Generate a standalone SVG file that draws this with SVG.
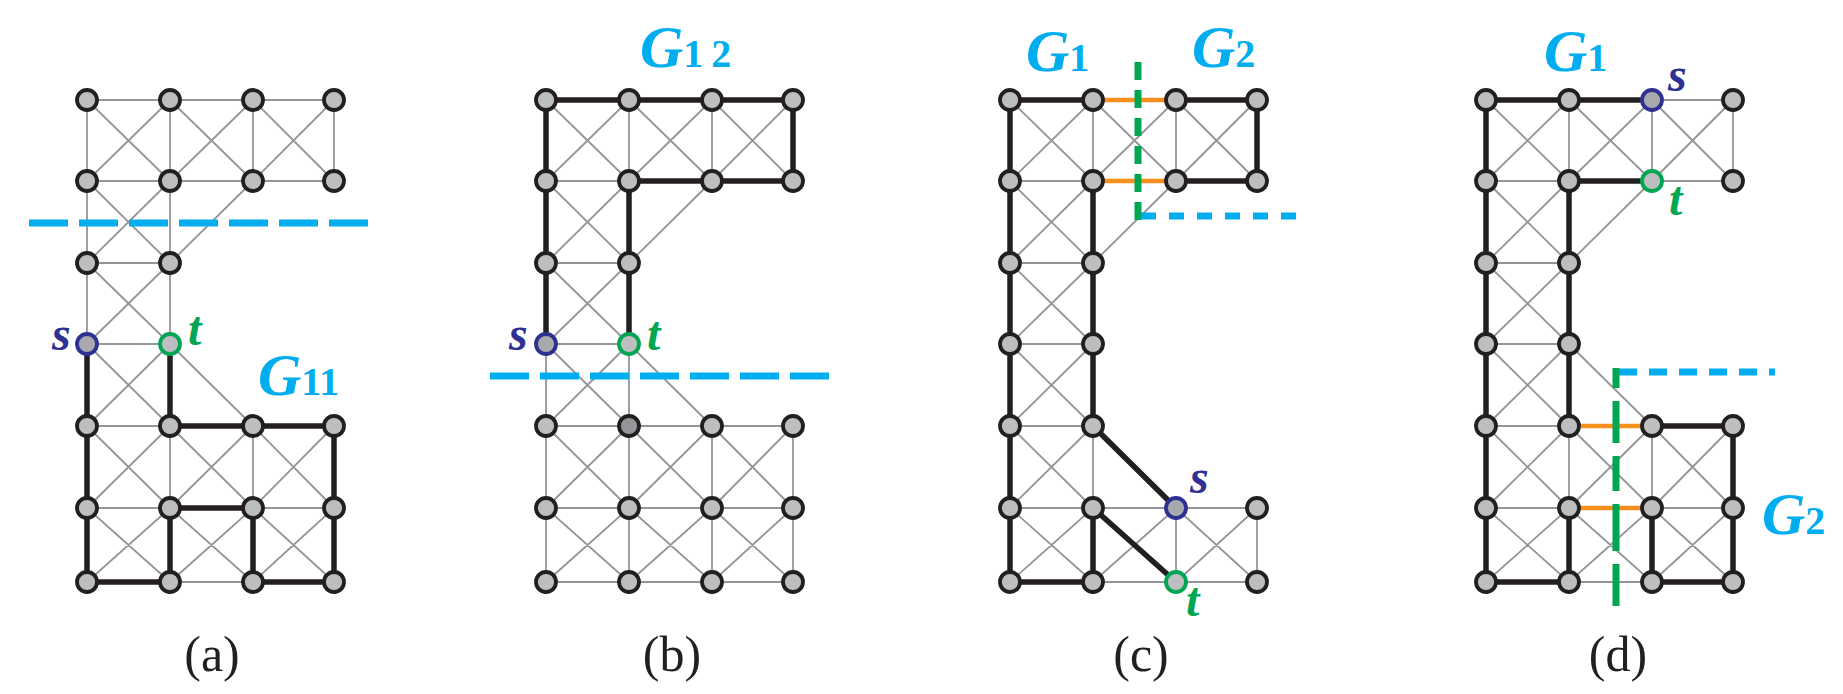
<svg xmlns="http://www.w3.org/2000/svg" xmlns:xlink="http://www.w3.org/1999/xlink" width="1843" height="694" viewBox="0 0 1843 694">
<style>
.g{fill:none;stroke:#939598;stroke-width:1.8}
.k{fill:none;stroke:#231f20;stroke-width:5.5;stroke-linejoin:miter}
.o{fill:none;stroke:#f7901e;stroke-width:4.5}
.n{fill:#bcbec0;stroke:#231f20;stroke-width:3.8}
.ns{fill:#a7a9ac;stroke:#2e3192;stroke-width:3.8}
.nt{fill:#bcbec0;stroke:#00a651;stroke-width:3.8}
.nd{fill:#939598;stroke:#231f20;stroke-width:3.8}
.cut{fill:none;stroke:#00aeef;stroke-width:7}
.gc{fill:none;stroke:#00a651;stroke-width:7}
.G{font-family:"Liberation Serif",serif;font-weight:bold;font-style:italic;fill:#00aeef;font-size:60px}
.sub{font-style:normal;font-size:40px}
.sl{font-family:"Liberation Serif",serif;font-weight:bold;font-style:italic;font-size:48px;fill:#2e3192}
.tl{font-family:"Liberation Serif",serif;font-weight:bold;font-style:italic;font-size:48px;fill:#00a651}
.cap{font-family:"Liberation Serif",serif;font-size:50px;fill:#231f20;text-anchor:middle}
</style>
<defs>
<path id="S1" class="g" d="M0 100H247M0 181H247M0 263H83M0 344H83M0 426H247M0 508H247M0 582H247M0 100V582M83 100V582M166 100V181M166 426V582M247 100V181M247 426V582M0 100L83 181M83 100L0 181M83 100L166 181M166 100L83 181M166 100L247 181M247 100L166 181M0 181L83 263M83 181L0 263M166 181L83 263M0 263L83 344M83 263L0 344M0 344L83 426M83 344L0 426M83 344L166 426M0 426L83 508M83 426L0 508M83 426L166 508M166 426L83 508M166 426L247 508M247 426L166 508M0 508L83 582M83 508L0 582M83 508L166 582M166 508L83 582M166 508L247 582M247 508L166 582"/>
<path id="S2" class="g" d="M0 100H247M0 181H247M0 263H83M0 344H83M0 426H83M0 508H247M0 582H247M0 100V582M83 100V582M166 100V181M166 508V582M247 100V181M247 508V582M0 100L83 181M83 100L0 181M83 100L166 181M166 100L83 181M166 100L247 181M247 100L166 181M0 181L83 263M83 181L0 263M166 181L83 263M0 263L83 344M83 263L0 344M0 344L83 426M83 344L0 426M0 426L83 508M83 426L0 508M83 426L166 508M0 508L83 582M83 508L0 582M83 508L166 582M166 508L83 582M166 508L247 582M247 508L166 582"/>
</defs>

<g id="connectors">
<use xlink:href="#S1" x="87"/>
<use xlink:href="#S1" x="546"/>
<use xlink:href="#S2" x="1010"/>
<use xlink:href="#S1" x="1486"/>
<g transform="translate(87 0)"><path class="k" d="M0 344V582H83M83 344V426H247V582H166M83 508H166M83 508V582M166 508V582"/></g>
<g transform="translate(546 0)"><path class="k" d="M0 344V100H247V181H83V344"/></g>
<g transform="translate(1010 0)"><path class="k" d="M83 100H0V582H83V508L166 582M83 181V426L166 508M166 100H247V181H166"/><path class="o" d="M83 100H166M83 181H166"/></g>
<g transform="translate(1486 0)"><path class="k" d="M166 100H0V582H83V508M166 181H83V426M166 508V582H247V426H166"/><path class="o" d="M83 426H166M83 508H166"/></g>
<path class="cut" stroke-dasharray="39 11" d="M29 223H371"/>
<path class="cut" stroke-dasharray="39 11" d="M490 376H832"/>
<path class="cut" stroke-dasharray="15 13" d="M1141 216H1296"/>
<path class="gc" stroke-dasharray="18 10" d="M1138 62V220"/>
<path class="cut" stroke-dasharray="18 12" d="M1619 372H1775"/>
<path class="gc" stroke-dasharray="20 13 42 13 35 13 47 13 42" d="M1616 368V608"/>
</g>

<g id="panel-a" transform="translate(87 0)">
<g id="a00"><circle class="n" cx="0" cy="100" r="10"/></g>
<g id="a10"><circle class="n" cx="83" cy="100" r="10"/></g>
<g id="a20"><circle class="n" cx="166" cy="100" r="10"/></g>
<g id="a30"><circle class="n" cx="247" cy="100" r="10"/></g>
<g id="a01"><circle class="n" cx="0" cy="181" r="10"/></g>
<g id="a11"><circle class="n" cx="83" cy="181" r="10"/></g>
<g id="a21"><circle class="n" cx="166" cy="181" r="10"/></g>
<g id="a31"><circle class="n" cx="247" cy="181" r="10"/></g>
<g id="a02"><circle class="n" cx="0" cy="263" r="10"/></g>
<g id="a12"><circle class="n" cx="83" cy="263" r="10"/></g>
<g id="a03"><circle class="ns" cx="0" cy="344" r="10"/></g>
<g id="a13"><circle class="nt" cx="83" cy="344" r="10"/></g>
<g id="a04"><circle class="n" cx="0" cy="426" r="10"/></g>
<g id="a14"><circle class="n" cx="83" cy="426" r="10"/></g>
<g id="a24"><circle class="n" cx="166" cy="426" r="10"/></g>
<g id="a34"><circle class="n" cx="247" cy="426" r="10"/></g>
<g id="a05"><circle class="n" cx="0" cy="508" r="10"/></g>
<g id="a15"><circle class="n" cx="83" cy="508" r="10"/></g>
<g id="a25"><circle class="n" cx="166" cy="508" r="10"/></g>
<g id="a35"><circle class="n" cx="247" cy="508" r="10"/></g>
<g id="a06"><circle class="n" cx="0" cy="582" r="10"/></g>
<g id="a16"><circle class="n" cx="83" cy="582" r="10"/></g>
<g id="a26"><circle class="n" cx="166" cy="582" r="10"/></g>
<g id="a36"><circle class="n" cx="247" cy="582" r="10"/></g>
</g>

<g id="panel-b" transform="translate(546 0)">
<g id="b00"><circle class="n" cx="0" cy="100" r="10"/></g>
<g id="b10"><circle class="n" cx="83" cy="100" r="10"/></g>
<g id="b20"><circle class="n" cx="166" cy="100" r="10"/></g>
<g id="b30"><circle class="n" cx="247" cy="100" r="10"/></g>
<g id="b01"><circle class="n" cx="0" cy="181" r="10"/></g>
<g id="b11"><circle class="n" cx="83" cy="181" r="10"/></g>
<g id="b21"><circle class="n" cx="166" cy="181" r="10"/></g>
<g id="b31"><circle class="n" cx="247" cy="181" r="10"/></g>
<g id="b02"><circle class="n" cx="0" cy="263" r="10"/></g>
<g id="b12"><circle class="n" cx="83" cy="263" r="10"/></g>
<g id="b03"><circle class="ns" cx="0" cy="344" r="10"/></g>
<g id="b13"><circle class="nt" cx="83" cy="344" r="10"/></g>
<g id="b04"><circle class="n" cx="0" cy="426" r="10"/></g>
<g id="b14"><circle class="nd" cx="83" cy="426" r="10"/></g>
<g id="b24"><circle class="n" cx="166" cy="426" r="10"/></g>
<g id="b34"><circle class="n" cx="247" cy="426" r="10"/></g>
<g id="b05"><circle class="n" cx="0" cy="508" r="10"/></g>
<g id="b15"><circle class="n" cx="83" cy="508" r="10"/></g>
<g id="b25"><circle class="n" cx="166" cy="508" r="10"/></g>
<g id="b35"><circle class="n" cx="247" cy="508" r="10"/></g>
<g id="b06"><circle class="n" cx="0" cy="582" r="10"/></g>
<g id="b16"><circle class="n" cx="83" cy="582" r="10"/></g>
<g id="b26"><circle class="n" cx="166" cy="582" r="10"/></g>
<g id="b36"><circle class="n" cx="247" cy="582" r="10"/></g>
</g>

<g id="panel-c" transform="translate(1010 0)">
<g id="c00"><circle class="n" cx="0" cy="100" r="10"/></g>
<g id="c10"><circle class="n" cx="83" cy="100" r="10"/></g>
<g id="c20"><circle class="n" cx="166" cy="100" r="10"/></g>
<g id="c30"><circle class="n" cx="247" cy="100" r="10"/></g>
<g id="c01"><circle class="n" cx="0" cy="181" r="10"/></g>
<g id="c11"><circle class="n" cx="83" cy="181" r="10"/></g>
<g id="c21"><circle class="n" cx="166" cy="181" r="10"/></g>
<g id="c31"><circle class="n" cx="247" cy="181" r="10"/></g>
<g id="c02"><circle class="n" cx="0" cy="263" r="10"/></g>
<g id="c12"><circle class="n" cx="83" cy="263" r="10"/></g>
<g id="c03"><circle class="n" cx="0" cy="344" r="10"/></g>
<g id="c13"><circle class="n" cx="83" cy="344" r="10"/></g>
<g id="c04"><circle class="n" cx="0" cy="426" r="10"/></g>
<g id="c14"><circle class="n" cx="83" cy="426" r="10"/></g>
<g id="c05"><circle class="n" cx="0" cy="508" r="10"/></g>
<g id="c15"><circle class="n" cx="83" cy="508" r="10"/></g>
<g id="c25"><circle class="ns" cx="166" cy="508" r="10"/></g>
<g id="c35"><circle class="n" cx="247" cy="508" r="10"/></g>
<g id="c06"><circle class="n" cx="0" cy="582" r="10"/></g>
<g id="c16"><circle class="n" cx="83" cy="582" r="10"/></g>
<g id="c26"><circle class="nt" cx="166" cy="582" r="10"/></g>
<g id="c36"><circle class="n" cx="247" cy="582" r="10"/></g>
</g>

<g id="panel-d" transform="translate(1486 0)">
<g id="d00"><circle class="n" cx="0" cy="100" r="10"/></g>
<g id="d10"><circle class="n" cx="83" cy="100" r="10"/></g>
<g id="d20"><circle class="ns" cx="166" cy="100" r="10"/></g>
<g id="d30"><circle class="n" cx="247" cy="100" r="10"/></g>
<g id="d01"><circle class="n" cx="0" cy="181" r="10"/></g>
<g id="d11"><circle class="n" cx="83" cy="181" r="10"/></g>
<g id="d21"><circle class="nt" cx="166" cy="181" r="10"/></g>
<g id="d31"><circle class="n" cx="247" cy="181" r="10"/></g>
<g id="d02"><circle class="n" cx="0" cy="263" r="10"/></g>
<g id="d12"><circle class="n" cx="83" cy="263" r="10"/></g>
<g id="d03"><circle class="n" cx="0" cy="344" r="10"/></g>
<g id="d13"><circle class="n" cx="83" cy="344" r="10"/></g>
<g id="d04"><circle class="n" cx="0" cy="426" r="10"/></g>
<g id="d14"><circle class="n" cx="83" cy="426" r="10"/></g>
<g id="d24"><circle class="n" cx="166" cy="426" r="10"/></g>
<g id="d34"><circle class="n" cx="247" cy="426" r="10"/></g>
<g id="d05"><circle class="n" cx="0" cy="508" r="10"/></g>
<g id="d15"><circle class="n" cx="83" cy="508" r="10"/></g>
<g id="d25"><circle class="n" cx="166" cy="508" r="10"/></g>
<g id="d35"><circle class="n" cx="247" cy="508" r="10"/></g>
<g id="d06"><circle class="n" cx="0" cy="582" r="10"/></g>
<g id="d16"><circle class="n" cx="83" cy="582" r="10"/></g>
<g id="d26"><circle class="n" cx="166" cy="582" r="10"/></g>
<g id="d36"><circle class="n" cx="247" cy="582" r="10"/></g>
</g>

<g id="labels">
<text class="G" x="258" y="395">G<tspan class="sub">11</tspan></text>
<text class="G" x="640" y="67">G<tspan class="sub" letter-spacing="8">12</tspan></text>
<text class="G" x="1026" y="71">G<tspan class="sub">1</tspan></text>
<text class="G" x="1192" y="67">G<tspan class="sub">2</tspan></text>
<text class="G" x="1544" y="71">G<tspan class="sub">1</tspan></text>
<text class="G" x="1762" y="534">G<tspan class="sub">2</tspan></text>
<text class="sl" x="52" y="350">s</text>
<text class="tl" x="188" y="345">t</text>
<text class="sl" x="509" y="350">s</text>
<text class="tl" x="647" y="350">t</text>
<text class="sl" x="1190" y="493">s</text>
<text class="tl" x="1186" y="616">t</text>
<text class="sl" x="1668" y="91">s</text>
<text class="tl" x="1669" y="215">t</text>
<text class="cap" x="212" y="671">(a)</text>
<text class="cap" x="672" y="671">(b)</text>
<text class="cap" x="1141" y="671">(c)</text>
<text class="cap" x="1618" y="671">(d)</text>
</g>
</svg>
